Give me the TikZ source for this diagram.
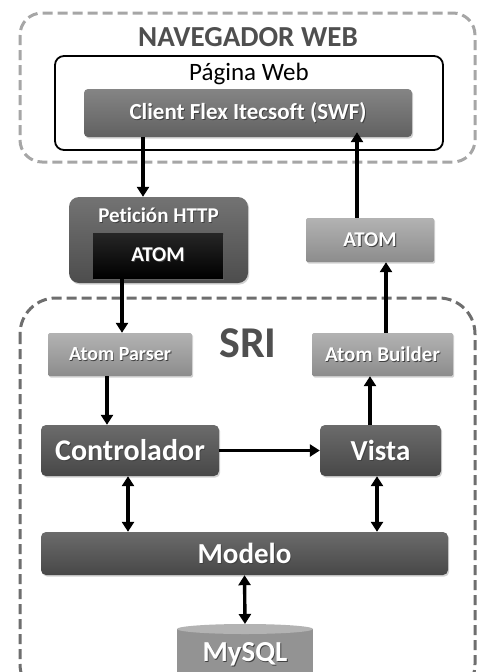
\documentclass[tikz,border=0pt]{standalone}
\usepackage{fontspec}
\setmainfont{Carlito}[Ligatures={NoCommon}]
\usetikzlibrary{arrows.meta,shadows,calc}
\definecolor{titlegray}{HTML}{4F4F4F}
\definecolor{navdash}{HTML}{A6A6A6}
\definecolor{sridash}{HTML}{6E6E6E}
\definecolor{dbtop}{HTML}{B3B3B3}
\definecolor{dbbody}{HTML}{939393}
\newcommand{\fs}[1]{\fontsize{#1}{#1}\selectfont}
\newcommand{\shtxt}[1]{\rlap{\kern0.9pt\raisebox{-0.9pt}{\color{black!75}#1}}#1}
\tikzset{
  shbox/.style={rectangle, inner sep=0pt, text=white, font=\bfseries,
    drop shadow={opacity=0.35, shadow xshift=1.2pt, shadow yshift=-1.6pt}},
  darkbox/.style={shbox, rounded corners=5pt, top color=black!58, bottom color=black!72},
  lightbox/.style={shbox, rounded corners=1.5pt, top color=black!30, bottom color=black!45},
  arr/.style={line width=3.4pt, -{Triangle[length=10pt,width=12pt]}},
  darr/.style={line width=3.4pt, {Triangle[length=10pt,width=12pt]}-{Triangle[length=10pt,width=12pt]}},
  dashbox/.style={line width=3pt, dash pattern=on 10pt off 5pt}
}
\begin{document}
\begin{tikzpicture}[x=1pt,y=-1pt]
\useasboundingbox (0,0) rectangle (478,672);
\clip (0,0) rectangle (478,672);
\fill[white] (0,0) rectangle (478,672);

% containers
\draw[dashbox, draw=navdash, rounded corners=22pt] (20,13) rectangle (475,162);
\node[text=titlegray, font=\bfseries\fs{29}] (navt) at (248,37) {NAVEGADOR WEB};
\draw[line width=1.8pt, rounded corners=9pt] (55,56) rectangle (443,150);
\node[font=\fs{25}] (pagt) at (249,74) {Página Web};
\node[darkbox, top color=black!48, bottom color=black!62, rounded corners=4pt,
  minimum width=328pt, minimum height=48pt, font=\bfseries\fs{23}] (client) at (248,113) {\shtxt{Client Flex Itecsoft (SWF)}};

\draw[dashbox, draw=sridash, rounded corners=36pt] (20,298) rectangle (475,700);
\node[text=titlegray, font=\bfseries\fs{44}] (srit) at (248,343) {SRI};

% HTTP request
\node[darkbox, rounded corners=10pt, top color=black!55, bottom color=black!70,
  minimum width=179pt, minimum height=86pt] (pet) at (158.5,240) {};
\node[text=white, font=\bfseries\fs{21}] (pett) at (158.5,216) {\shtxt{Petición HTTP}};
\node[shbox, top color=black!85, bottom color=black, minimum width=130pt, minimum height=45pt,
  font=\bfseries\fs{21}] (atomin) at (158,255.5) {\shtxt{ATOM}};

\node[lightbox, minimum width=128pt, minimum height=44pt, font=\bfseries\fs{21}] (atomout) at (370,240) {\shtxt{ATOM}};

% SRI internals
\node[lightbox, minimum width=144pt, minimum height=43pt, font=\bfseries\fs{20}] (parser) at (120,354.5) {\shtxt{Atom Parser}};
\node[lightbox, minimum width=141pt, minimum height=43pt, font=\bfseries\fs{21}] (builder) at (382.5,354.5) {\shtxt{Atom Builder}};
\node[darkbox, minimum width=178pt, minimum height=51pt, font=\bfseries\fs{30}] (ctrl) at (130,450.5) {\shtxt{Controlador}};
\node[darkbox, minimum width=121pt, minimum height=51pt, font=\bfseries\fs{29}] (vista) at (380.5,450.5) {\shtxt{Vista}};
\node[darkbox, minimum width=407pt, minimum height=43pt, font=\bfseries\fs{29}] (modelo) at (244.5,553.5) {\shtxt{Modelo}};

% MySQL cylinder
\fill[dbbody] (177,629) rectangle (313,700);
\fill[dbtop] (245,629) ellipse [x radius=68pt, y radius=5pt];
\node[text=white, font=\bfseries\fs{29}] (mysql) at (245,655) {\shtxt{MySQL}};
\coordinate (dbtopc) at (245,624);

% connector x positions
\coordinate (xa) at (143,0);
\coordinate (xb) at (357,0);
\coordinate (xc) at (122,0);
\coordinate (xd) at (386,0);
\coordinate (xe) at (107,0);
\coordinate (xf) at (370,0);
\coordinate (xg) at (128,0);
\coordinate (xh) at (377,0);

\draw[arr] (client.south -| xa) -- (pet.north -| xa);
\draw[arr, shorten >=-5pt] (atomout.north -| xb) -- (client.south -| xb);
\draw[arr] (atomin.south -| xc) -- (parser.north -| xc);
\draw[arr] (builder.north -| xd) -- (atomout.south -| xd);
\draw[arr] (parser.south -| xe) -- (ctrl.north -| xe);
\draw[arr] (ctrl.east) -- (vista.west);
\draw[arr] (vista.north -| xf) -- (builder.south -| xf);
\draw[darr] (ctrl.south -| xg) -- (modelo.north -| xg);
\draw[darr] (vista.south -| xh) -- (modelo.north -| xh);
\draw[darr] (modelo.south) -- (dbtopc);
\end{tikzpicture}
\end{document}
